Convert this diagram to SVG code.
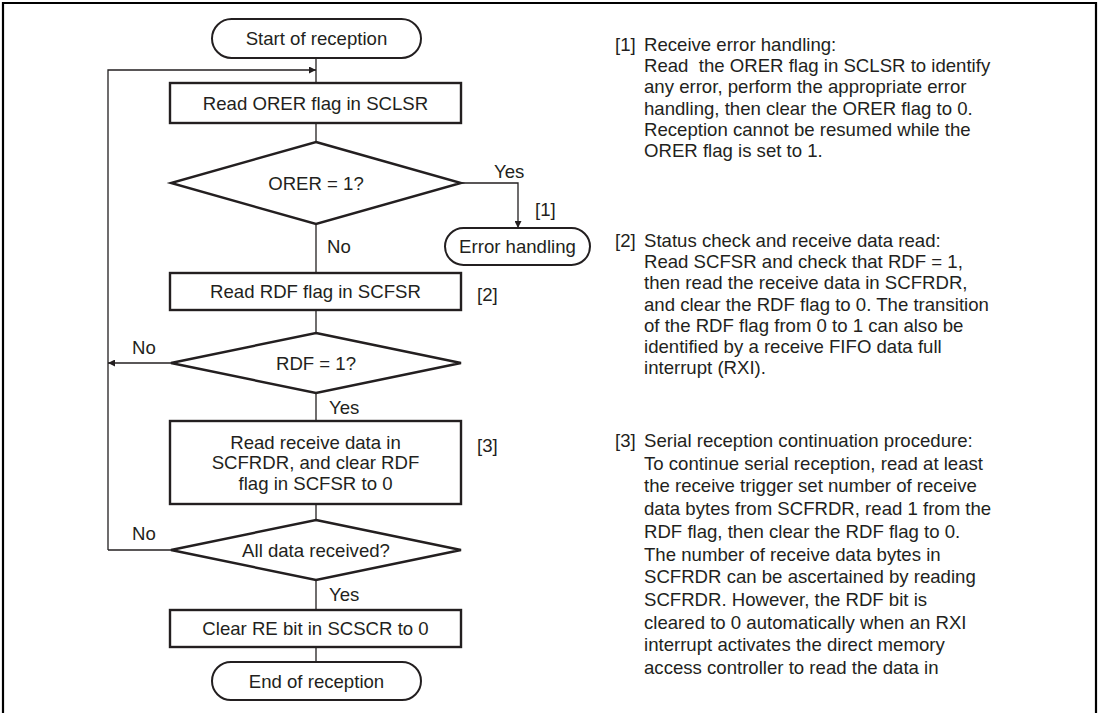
<svg xmlns="http://www.w3.org/2000/svg" width="1102" height="713" viewBox="0 0 1102 713">
<defs>
<style>
text{font-family:"Liberation Sans",Arial,sans-serif;font-size:18.6px;fill:#231f20}
.c{text-anchor:middle}
.box{fill:#fff;stroke:#231f20;stroke-width:2.4}
.term{fill:#fff;stroke:#231f20;stroke-width:2}
.dia{fill:#fff;stroke:#231f20;stroke-width:2.4;stroke-linejoin:miter}
.ln{fill:none;stroke:#231f20;stroke-width:1.3}
</style>
<marker id="ah" viewBox="0 0 10 10" refX="10" refY="5" markerWidth="9" markerHeight="7" markerUnits="userSpaceOnUse" orient="auto">
<path d="M0,0 L10,5 L0,10 z" fill="#231f20"/>
</marker>
</defs>
<rect width="1102" height="713" fill="#fff"/>
<path d="M3,713 V3 H1096 V713" fill="none" stroke="#000" stroke-width="2.2"/>

<g id="connectors">
<line class="ln" x1="316" y1="58" x2="316" y2="83"/>
<path class="ln" d="M108,550 V70 H316" marker-end="url(#ah)"/>
<line class="ln" x1="316" y1="123" x2="316" y2="142"/>
<path class="ln" d="M461,183 H518 V228" marker-end="url(#ah)"/>
<line class="ln" x1="316" y1="224" x2="316" y2="273"/>
<line class="ln" x1="316" y1="310" x2="316" y2="333"/>
<line class="ln" x1="171" y1="363" x2="108" y2="363" marker-end="url(#ah)"/>
<line class="ln" x1="316" y1="393" x2="316" y2="421"/>
<line class="ln" x1="316" y1="504" x2="316" y2="520"/>
<line class="ln" x1="171" y1="550" x2="108" y2="550"/>
<line class="ln" x1="316" y1="580" x2="316" y2="610"/>
<line class="ln" x1="316" y1="647" x2="316" y2="662"/>
<text x="494" y="178">Yes</text>
<text x="535" y="216">[1]</text>
<text x="327" y="253">No</text>
<text x="132" y="354">No</text>
<text x="329" y="414">Yes</text>
<text x="132" y="540">No</text>
<text x="329" y="601">Yes</text>
</g>

<g id="start">
<rect class="term" x="212" y="19" width="209" height="39" rx="19.5"/>
<text class="c" x="316.5" y="45">Start of reception</text>
</g>
<g id="read-orer">
<rect class="box" x="170" y="83" width="291" height="40"/>
<text class="c" x="315.5" y="110">Read ORER flag in SCLSR</text>
</g>
<g id="orer-check">
<polygon class="dia" points="316,142 461,183 316,224 171,183"/>
<text class="c" x="316" y="189.5">ORER = 1?</text>
</g>
<g id="error-handling">
<rect class="term" x="445" y="228" width="145" height="37" rx="18.5"/>
<text class="c" x="517.5" y="253">Error handling</text>
</g>
<g id="read-rdf">
<rect class="box" x="170" y="273" width="291" height="37"/>
<text class="c" x="315.5" y="298">Read RDF flag in SCFSR</text>
<text x="477" y="301">[2]</text>
</g>
<g id="rdf-check">
<polygon class="dia" points="316,333 461,363 316,393 171,363"/>
<text class="c" x="316" y="369.5">RDF = 1?</text>
</g>
<g id="read-data">
<rect class="box" x="170" y="421" width="291" height="83"/>
<text class="c" x="315.5" y="448.5">Read receive data in</text>
<text class="c" x="315.5" y="469">SCFRDR, and clear RDF</text>
<text class="c" x="315.5" y="489.5">flag in SCFSR to 0</text>
<text x="477" y="452">[3]</text>
</g>
<g id="all-check">
<polygon class="dia" points="316,520 461,550 316,580 171,550"/>
<text class="c" x="316" y="556.5">All data received?</text>
</g>
<g id="clear-re">
<rect class="box" x="170" y="610" width="291" height="37"/>
<text class="c" x="315.5" y="635">Clear RE bit in SCSCR to 0</text>
</g>
<g id="end">
<rect class="term" x="212" y="662" width="209" height="38" rx="19"/>
<text class="c" x="316.5" y="687.5">End of reception</text>
</g>

<g id="notes">
<text x="615" y="51">[1]</text>
<text x="644" y="51">Receive error handling:</text>
<text x="644" y="72.2" xml:space="preserve">Read  the ORER flag in SCLSR to identify</text>
<text x="644" y="93.4">any error, perform the appropriate error</text>
<text x="644" y="114.6">handling, then clear the ORER flag to 0.</text>
<text x="644" y="135.8">Reception cannot be resumed while the</text>
<text x="644" y="157">ORER flag is set to 1.</text>

<text x="615" y="247">[2]</text>
<text x="644" y="247">Status check and receive data read:</text>
<text x="644" y="268.2">Read SCFSR and check that RDF = 1,</text>
<text x="644" y="289.4">then read the receive data in SCFRDR,</text>
<text x="644" y="310.6">and clear the RDF flag to 0. The transition</text>
<text x="644" y="331.8">of the RDF flag from 0 to 1 can also be</text>
<text x="644" y="353">identified by a receive FIFO data full</text>
<text x="644" y="374.2">interrupt (RXI).</text>

<text x="615" y="447">[3]</text>
<text x="644" y="447">Serial reception continuation procedure:</text>
<text x="644" y="469.7">To continue serial reception, read at least</text>
<text x="644" y="492.4">the receive trigger set number of receive</text>
<text x="644" y="515.1">data bytes from SCFRDR, read 1 from the</text>
<text x="644" y="537.8">RDF flag, then clear the RDF flag to 0.</text>
<text x="644" y="560.5">The number of receive data bytes in</text>
<text x="644" y="583.2">SCFRDR can be ascertained by reading</text>
<text x="644" y="605.9">SCFRDR. However, the RDF bit is</text>
<text x="644" y="628.6">cleared to 0 automatically when an RXI</text>
<text x="644" y="651.3">interrupt activates the direct memory</text>
<text x="644" y="674">access controller to read the data in</text>
</g>
</svg>
